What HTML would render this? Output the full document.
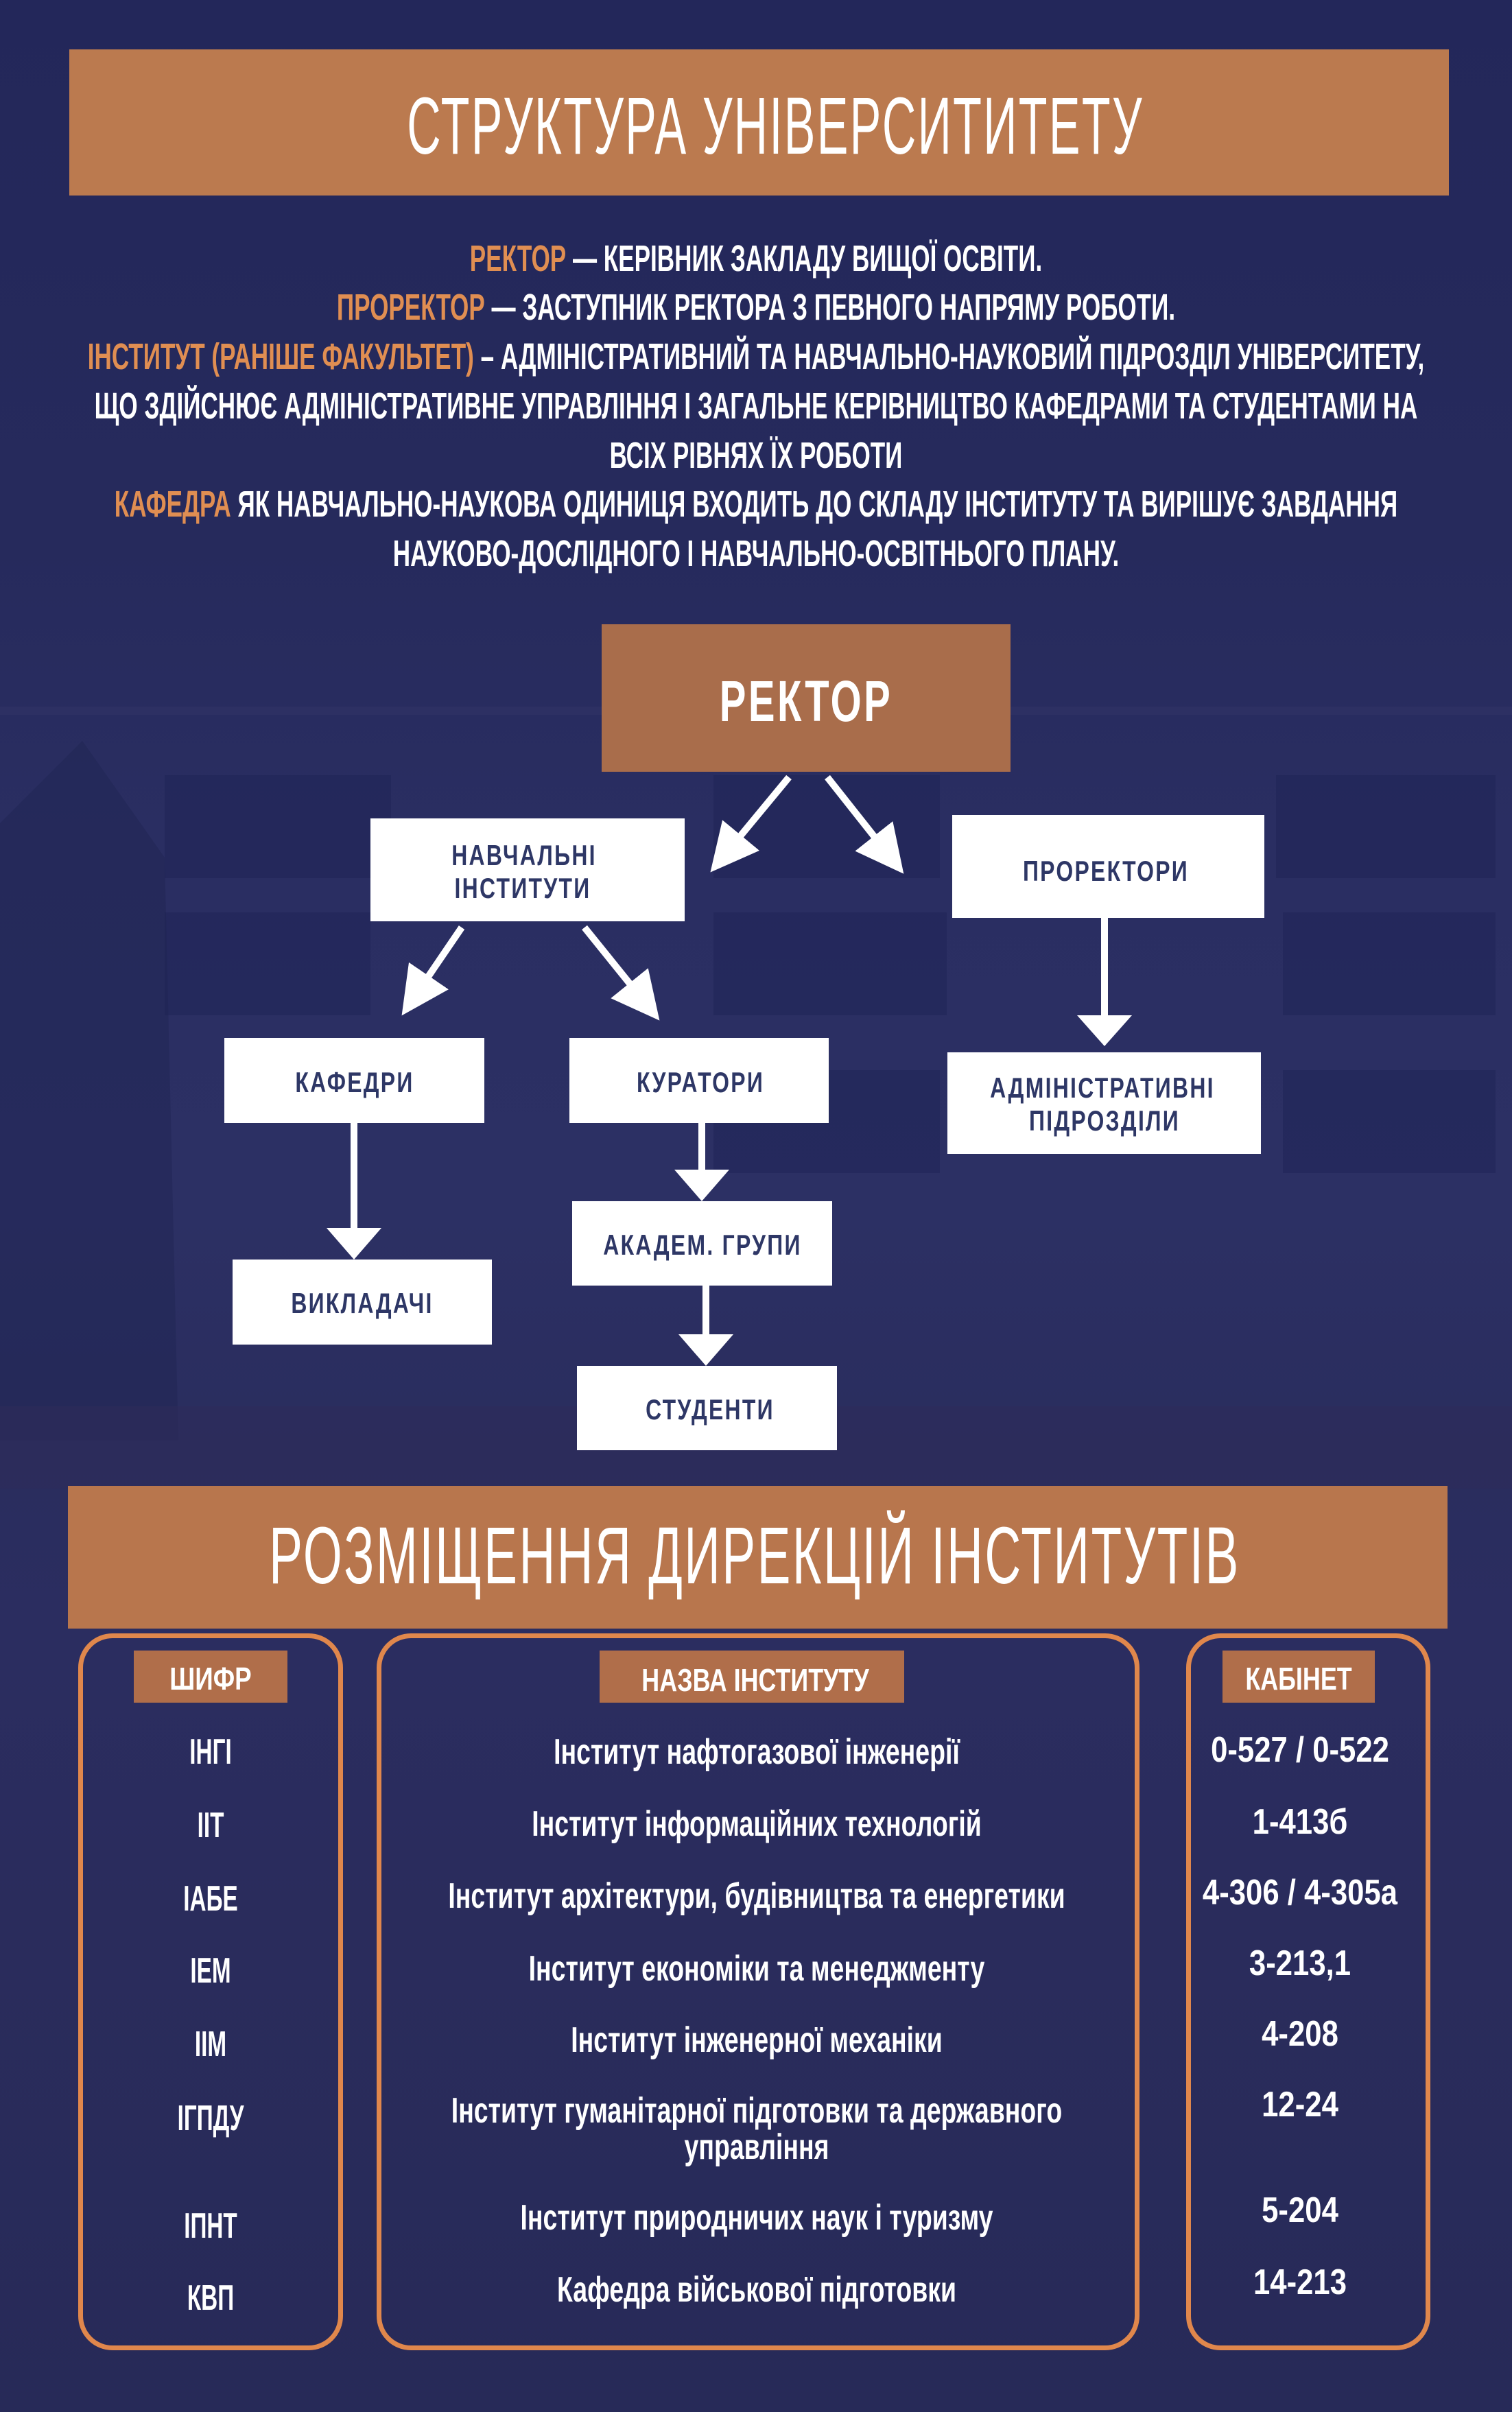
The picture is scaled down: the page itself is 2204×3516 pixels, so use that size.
<!DOCTYPE html>
<html><head><meta charset="utf-8">
<style>
html,body{margin:0;padding:0}
body{width:2204px;height:3516px;position:relative;overflow:hidden;
background:linear-gradient(180deg,#23275a 0%,#262a5c 22%,#2a2e62 35%,#2c3064 50%,#2a2d5e 60%,#2b2d60 68%,#2a2c5c 80%,#272a58 100%);
font-family:"Liberation Sans",sans-serif}
.t{position:absolute;white-space:nowrap;line-height:1;transform:translate(-50%,-50%) scaleX(var(--s,0.55));}
.b{font-weight:bold}
.box{position:absolute;background:#fff}
.o{color:#e08e52}
.w{color:#fff}
.nv{color:#2e3766;font-weight:bold;letter-spacing:3px}
.col{position:absolute;border:7px solid #e0874c;border-radius:50px;box-sizing:border-box}
.tag{position:absolute;background:#b06e4a}
.cell{color:#fff;font-weight:bold;font-size:52px}
</style></head><body>
<svg style="position:absolute;left:0;top:0" width="2204" height="3516">
<g fill="#1c2052" opacity="0.4">
<rect x="240" y="1130" width="330" height="150"/><rect x="1040" y="1130" width="330" height="150"/><rect x="1860" y="1130" width="320" height="150"/>
<rect x="240" y="1330" width="300" height="150"/><rect x="1040" y="1330" width="340" height="150"/><rect x="1870" y="1330" width="310" height="150"/>
<rect x="1040" y="1560" width="330" height="150"/><rect x="1870" y="1560" width="310" height="150"/>
</g>
<rect x="0" y="1030" width="2204" height="12" fill="#343868" opacity="0.4"/>
<path d="M0 1200 L120 1080 L240 1250 L260 2100 L0 2100Z" fill="#1e2350" opacity="0.4"/>
<rect x="0" y="2050" width="2204" height="120" fill="#2e2c5a" opacity="0.6"/>
</svg>

<div style="position:absolute;left:101px;top:72px;width:2011px;height:213px;background:#bb7a4f"></div>
<div class="t w" style="left:1130px;top:184px;font-size:118px;--s:0.58;letter-spacing:4px">СТРУКТУРА УНІВЕРСИТИТЕТУ</div>

<div class="t b w" style="left:1102px;top:377px;font-size:54px;--s:0.65"><span class="o">РЕКТОР</span> — КЕРІВНИК ЗАКЛАДУ ВИЩОЇ ОСВІТИ.</div>
<div class="t b w" style="left:1102px;top:448px;font-size:54px;--s:0.65"><span class="o">ПРОРЕКТОР</span> — ЗАСТУПНИК РЕКТОРА З ПЕВНОГО НАПРЯМУ РОБОТИ.</div>
<div class="t b w" style="left:1102px;top:520px;font-size:54px;--s:0.65"><span class="o">ІНСТИТУТ (РАНІШЕ ФАКУЛЬТЕТ)</span> – АДМІНІСТРАТИВНИЙ ТА НАВЧАЛЬНО-НАУКОВИЙ ПІДРОЗДІЛ УНІВЕРСИТЕТУ,</div>
<div class="t b w" style="left:1102px;top:592px;font-size:54px;--s:0.65">ЩО ЗДІЙСНЮЄ АДМІНІСТРАТИВНЕ УПРАВЛІННЯ І ЗАГАЛЬНЕ КЕРІВНИЦТВО КАФЕДРАМИ ТА СТУДЕНТАМИ НА</div>
<div class="t b w" style="left:1102px;top:664px;font-size:54px;--s:0.65">ВСІХ РІВНЯХ ЇХ РОБОТИ</div>
<div class="t b w" style="left:1102px;top:735px;font-size:54px;--s:0.65"><span class="o">КАФЕДРА</span> ЯК НАВЧАЛЬНО-НАУКОВА ОДИНИЦЯ ВХОДИТЬ ДО СКЛАДУ ІНСТИТУТУ ТА ВИРІШУЄ ЗАВДАННЯ</div>
<div class="t b w" style="left:1102px;top:807px;font-size:54px;--s:0.65">НАУКОВО-ДОСЛІДНОГО І НАВЧАЛЬНО-ОСВІТНЬОГО ПЛАНУ.</div>

<div style="position:absolute;left:877px;top:910px;width:596px;height:215px;background:#a96d4b"></div>
<div class="t b w" style="left:1175px;top:1022px;font-size:84px;--s:0.69;letter-spacing:5px">РЕКТОР</div>

<div class="box" style="left:540px;top:1193px;width:458px;height:150px"></div>
<div class="t nv" style="left:764px;top:1247px;font-size:42px;--s:0.76">НАВЧАЛЬНІ</div>
<div class="t nv" style="left:762px;top:1295px;font-size:42px;--s:0.76">ІНСТИТУТИ</div>

<div class="box" style="left:1388px;top:1188px;width:455px;height:150px"></div>
<div class="t nv" style="left:1612px;top:1270px;font-size:42px;--s:0.76">ПРОРЕКТОРИ</div>

<div class="box" style="left:327px;top:1513px;width:379px;height:124px"></div>
<div class="t nv" style="left:517px;top:1578px;font-size:42px;--s:0.76">КАФЕДРИ</div>

<div class="box" style="left:830px;top:1513px;width:378px;height:124px"></div>
<div class="t nv" style="left:1021px;top:1578px;font-size:42px;--s:0.76">КУРАТОРИ</div>

<div class="box" style="left:1381px;top:1534px;width:457px;height:148px"></div>
<div class="t nv" style="left:1607px;top:1586px;font-size:42px;--s:0.76">АДМІНІСТРАТИВНІ</div>
<div class="t nv" style="left:1610px;top:1634px;font-size:42px;--s:0.76">ПІДРОЗДІЛИ</div>

<div class="box" style="left:834px;top:1751px;width:379px;height:123px"></div>
<div class="t nv" style="left:1024px;top:1815px;font-size:42px;--s:0.76">АКАДЕМ. ГРУПИ</div>

<div class="box" style="left:339px;top:1836px;width:378px;height:124px"></div>
<div class="t nv" style="left:528px;top:1900px;font-size:42px;--s:0.76">ВИКЛАДАЧІ</div>

<div class="box" style="left:841px;top:1991px;width:379px;height:123px"></div>
<div class="t nv" style="left:1035px;top:2055px;font-size:42px;--s:0.76">СТУДЕНТИ</div>

<svg style="position:absolute;left:0;top:0" width="2204" height="3516">
<defs><marker id="a" markerWidth="7" markerHeight="7" refX="5.5" refY="3.5" orient="auto" markerUnits="strokeWidth"><path d="M0,0 L7,3.5 L0,7Z" fill="#fff"/></marker></defs>
<g stroke="#fff" stroke-width="10" fill="none">
<line x1="1150" y1="1133" x2="1045" y2="1260" marker-end="url(#a)"/>
<line x1="1206" y1="1133" x2="1308" y2="1262" marker-end="url(#a)"/>
<line x1="673" y1="1352" x2="594" y2="1468" marker-end="url(#a)"/>
<line x1="852" y1="1352" x2="952" y2="1476" marker-end="url(#a)"/>
</g>
<g fill="#fff">
<rect x="1605" y="1338" width="10" height="150"/><path d="M1570 1480 L1650 1480 L1610 1525Z"/>
<rect x="511" y="1637" width="10" height="160"/><path d="M476 1790 L556 1790 L516 1836Z"/>
<rect x="1018" y="1637" width="10" height="76"/><path d="M983 1705 L1063 1705 L1023 1751Z"/>
<rect x="1024" y="1874" width="10" height="78"/><path d="M989 1945 L1069 1945 L1029 1991Z"/>
</g>
</svg>

<div style="position:absolute;left:99px;top:2166px;width:2011px;height:208px;background:#b8764d"></div>
<div class="t w" style="left:1100px;top:2268px;font-size:118px;--s:0.62;letter-spacing:4px">РОЗМІЩЕННЯ ДИРЕКЦІЙ ІНСТИТУТІВ</div>

<div class="col" style="left:114px;top:2381px;width:386px;height:1045px"></div>
<div class="col" style="left:549px;top:2381px;width:1112px;height:1045px"></div>
<div class="col" style="left:1729px;top:2381px;width:356px;height:1045px"></div>

<div class="tag" style="left:195px;top:2406px;width:224px;height:76px"></div>
<div class="t b w" style="left:307px;top:2447px;font-size:46px;--s:0.8">ШИФР</div>
<div class="tag" style="left:874px;top:2406px;width:444px;height:76px"></div>
<div class="t b w" style="left:1101px;top:2449px;font-size:46px;--s:0.78">НАЗВА ІНСТИТУТУ</div>
<div class="tag" style="left:1782px;top:2406px;width:222px;height:76px"></div>
<div class="t b w" style="left:1893px;top:2447px;font-size:46px;--s:0.78">КАБІНЕТ</div>

<div class="t cell" style="left:307px;top:2554px;--s:0.64">ІНГІ</div>
<div class="t cell" style="left:307px;top:2661px;--s:0.64">ІІТ</div>
<div class="t cell" style="left:307px;top:2768px;--s:0.64">ІАБЕ</div>
<div class="t cell" style="left:307px;top:2873px;--s:0.64">ІЕМ</div>
<div class="t cell" style="left:307px;top:2980px;--s:0.64">ІІМ</div>
<div class="t cell" style="left:307px;top:3088px;--s:0.64">ІГПДУ</div>
<div class="t cell" style="left:307px;top:3245px;--s:0.64">ІПНТ</div>
<div class="t cell" style="left:307px;top:3350px;--s:0.64">КВП</div>

<div class="t cell" style="left:1103px;top:2554px;--s:0.72">Інститут нафтогазової інженерії</div>
<div class="t cell" style="left:1103px;top:2659px;--s:0.72">Інститут інформаційних технологій</div>
<div class="t cell" style="left:1103px;top:2764px;--s:0.72">Інститут архітектури, будівництва та енергетики</div>
<div class="t cell" style="left:1103px;top:2870px;--s:0.72">Інститут економіки та менеджменту</div>
<div class="t cell" style="left:1103px;top:2974px;--s:0.72">Інститут інженерної механіки</div>
<div class="t cell" style="left:1103px;top:3077px;--s:0.72">Інститут гуманітарної підготовки та державного</div>
<div class="t cell" style="left:1103px;top:3130px;--s:0.72">управління</div>
<div class="t cell" style="left:1103px;top:3233px;--s:0.72">Інститут природничих наук і туризму</div>
<div class="t cell" style="left:1103px;top:3338px;--s:0.72">Кафедра військової підготовки</div>

<div class="t cell" style="left:1895px;top:2551px;--s:0.84">0-527 / 0-522</div>
<div class="t cell" style="left:1895px;top:2656px;--s:0.84">1-413б</div>
<div class="t cell" style="left:1895px;top:2759px;--s:0.84">4-306 / 4-305а</div>
<div class="t cell" style="left:1895px;top:2862px;--s:0.84">3-213,1</div>
<div class="t cell" style="left:1895px;top:2965px;--s:0.84">4-208</div>
<div class="t cell" style="left:1895px;top:3068px;--s:0.84">12-24</div>
<div class="t cell" style="left:1895px;top:3222px;--s:0.84">5-204</div>
<div class="t cell" style="left:1895px;top:3327px;--s:0.84">14-213</div>
</body></html>
